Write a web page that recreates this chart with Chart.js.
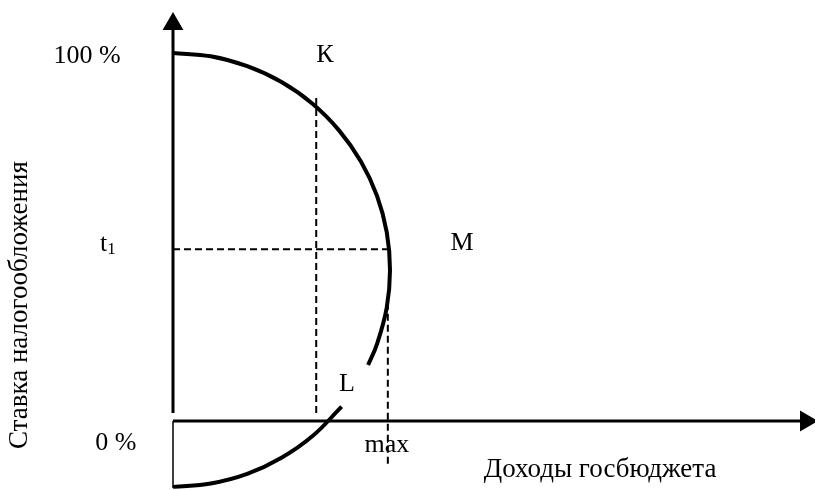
<!DOCTYPE html>
<html>
<head>
<meta charset="utf-8">
<script src="https://cdn.jsdelivr.net/npm/chart.js@4"></script>
<style>
  body { margin: 0; background: #fff; }
  #wrap { position: relative; width: 815px; height: 490px; }
</style>
</head>
<body>
<div id="wrap"><canvas id="laffer" width="815" height="490"></canvas></div>
<script>
// Laffer curve: revenue (x, max = 100) against tax rate (y, %)
const revenueTop = [0, 17.4, 34.2, 50.0, 64.3, 76.6, 86.6, 94.0, 98.5, 100, 98.5, 94.0, 89.9];
const rateTop    = [100, 99.1, 96.4, 92.1, 86.2, 78.9, 70.5, 61.2, 51.3, 41.0, 30.8, 20.9, 15.2];
const revenueBottom = [77.7, 64.3, 50.0, 34.2, 17.4, 0];
const rateBottom    = [3.9, -4.1, -10.0, -14.4, -17.0, -17.9];

// marked levels
const rateT1 = 46.7;      // t1
const revenueK = 66;      // point K
const revenueMax = 99;    // max revenue

// axis extents
const xAxisEnd = 291.7;
const yAxisEnd = 107.9;
const yAxisStart = 2.2;
const yAxisLow = -18.2;

// text labels: [text, revenue, rate]
const labelText = ['100 %', 'К', 'М', 'L', '0 %', 'max', 'Доходы госбюджета'];
const labelRev  = [-39.6, 70.0, 133.2, 80.2, -26.3, 98.6, 196.8];
const labelRate = [97.3, 97.6, 46.5, 8.2, -7.9, -8.4, -15.2];
const yTitle = 'Ставка налогообложения';

const pts = (xs, ys) => xs.map((x, i) => ({ x: x, y: ys[i] }));

const FONT = '"Liberation Serif", "Times New Roman", serif';

const textPlugin = {
  id: 'texts',
  afterDatasetsDraw(chart) {
    const ctx = chart.ctx;
    const sx = chart.scales.x, sy = chart.scales.y;
    ctx.save();
    ctx.fillStyle = '#000';
    ctx.textAlign = 'center';
    ctx.textBaseline = 'alphabetic';
    labelText.forEach((t, i) => {
      const f = i === labelText.length - 1 ? '27px ' : '26px ';
      ctx.font = f + FONT;
      ctx.fillText(t, sx.getPixelForValue(labelRev[i]), sy.getPixelForValue(labelRate[i]));
    });
    // t1 with subscript
    ctx.font = '26px ' + FONT;
    const tx = sx.getPixelForValue(-33.6);
    const ty = sy.getPixelForValue(rateT1 - 0.5);
    ctx.textAlign = 'left';
    ctx.fillText('t', tx, ty);
    const tw = ctx.measureText('t').width;
    ctx.font = '17px ' + FONT;
    ctx.fillText('1', tx + tw, ty + 3);
    // rotated y title
    ctx.font = '27px ' + FONT;
    ctx.translate(sx.getPixelForValue(-70.5), sy.getPixelForValue(31.5));
    ctx.rotate(-Math.PI / 2);
    ctx.textAlign = 'center';
    ctx.textBaseline = 'middle';
    ctx.fillText(yTitle, 0, 0);
    ctx.restore();
  }
};

const solid = (data, width, extra) => Object.assign({
  data: data,
  borderColor: '#000',
  backgroundColor: '#000',
  borderWidth: width,
  pointRadius: 0,
  tension: 0,
  clip: false
}, extra || {});

const dashed = (data) => solid(data, 2, { borderDash: [7, 4] });

new Chart(document.getElementById('laffer'), {
  type: 'scatter',
  data: {
    datasets: [
      solid(pts(revenueTop, rateTop), 4, { showLine: true, tension: 0.4 }),
      solid(pts(revenueBottom, rateBottom), 4, { showLine: true, tension: 0.4 }),
      dashed([{ x: 0, y: rateT1 }, { x: revenueMax, y: rateT1 }]),
      dashed([{ x: revenueK, y: 87.8 }, { x: revenueK, y: 2.2 }]),
      dashed([{ x: revenueMax, y: 32.1 }, { x: revenueMax, y: -12.5 }]),
      solid([{ x: 0, y: yAxisStart }, { x: 0, y: yAxisEnd }], 3,
        { pointStyle: 'triangle', pointRadius: [0, 9], pointRotation: 0 }),
      solid([{ x: 0, y: 0 }, { x: xAxisEnd, y: 0 }], 3,
        { pointStyle: 'triangle', pointRadius: [0, 9], pointRotation: 90 }),
      solid([{ x: 0, y: 0 }, { x: 0, y: yAxisLow }], 1.5)
    ].map(d => Object.assign({ showLine: true }, d))
  },
  options: {
    responsive: false,
    animation: false,
    layout: { autoPadding: false, padding: { left: 173, right: 0, top: 0, bottom: 0 } },
    plugins: { legend: { display: false }, tooltip: { enabled: false } },
    scales: {
      x: { type: 'linear', display: false, min: 0, max: 295.85 },
      y: { type: 'linear', display: false, min: -18.75, max: 114.4 }
    }
  },
  plugins: [textPlugin]
});
</script>
</body>
</html>
